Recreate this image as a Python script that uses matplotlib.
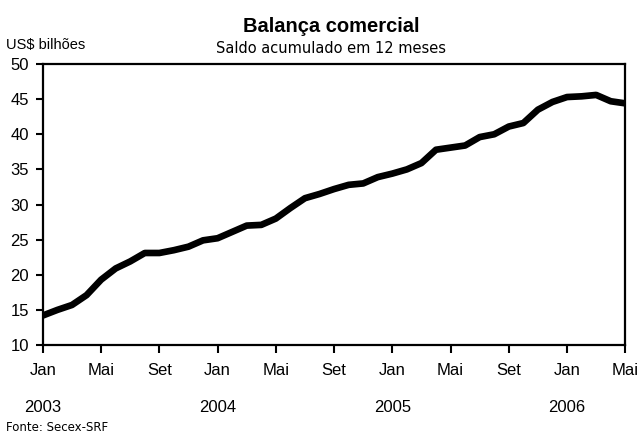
import numpy as np
import matplotlib
matplotlib.use('Agg')
import matplotlib.pyplot as plt
import matplotlib.transforms as mtransforms

# saldo acumulado em 12 meses, jan/2003 a mai/2006 (US$ bilhoes)
saldo = [14.2, 15.0, 15.7, 17.1, 19.3, 20.9, 21.9, 23.1, 23.1, 23.5, 24.0, 24.9,
         25.2, 26.1, 27.0, 27.1, 28.0, 29.5, 30.9, 31.5, 32.2, 32.8, 33.0, 33.9,
         34.4, 35.0, 35.9, 37.8, 38.1, 38.4, 39.6, 40.0, 41.1, 41.6, 43.5, 44.6,
         45.3, 45.4, 45.6, 44.7, 44.4]
meses = ['Jan', 'Mai', 'Set', 'Jan', 'Mai', 'Set', 'Jan', 'Mai', 'Set', 'Jan', 'Mai']
anos = ['2003', '2004', '2005', '2006']

plt.rcParams['font.family'] = ['Liberation Sans', 'DejaVu Sans']

fig = plt.figure(figsize=(6.4, 4.37), dpi=100)
ax = fig.add_axes([0.067, 0.2105, 0.91, 0.643])

x = np.arange(len(saldo))
ax.plot(x, saldo, color='black', linewidth=4.8, solid_joinstyle='round',
        solid_capstyle='butt')

ax.set_xlim(0, len(saldo) - 1)
ax.set_ylim(10, 50)
ax.set_yticks(range(10, 51, 5))
ax.set_xticks(range(0, len(saldo), 4))
ax.set_xticklabels(meses)

ax.tick_params(axis='y', direction='out', length=5, width=1.5, pad=5, labelsize=12)
ax.tick_params(axis='x', direction='out', length=6, width=1.5, pad=7, labelsize=12)
for s in ax.spines.values():
    s.set_linewidth(1.6)
    s.set_color('black')

trans = mtransforms.blended_transform_factory(ax.transData, ax.transAxes)
for i, ano in enumerate(anos):
    ax.text(i * 12, -0.224, ano, transform=trans, ha='center', va='center', fontsize=12)

fig.text(0.517, 0.94, 'Balança comercial', ha='center', va='center',
         fontsize=14.5, fontweight='bold')
fig.text(0.517, 0.888, 'Saldo acumulado em 12 meses', ha='center', va='center',
         fontsize=10.5, family='DejaVu Sans')
fig.text(0.009, 0.897, 'US$ bilhões', ha='left', va='center', fontsize=10.5)
fig.text(0.009, 0.022, 'Fonte: Secex-SRF', ha='left', va='center', fontsize=8.5,
         family='DejaVu Sans')

fig.savefig('out.png', dpi=100)
